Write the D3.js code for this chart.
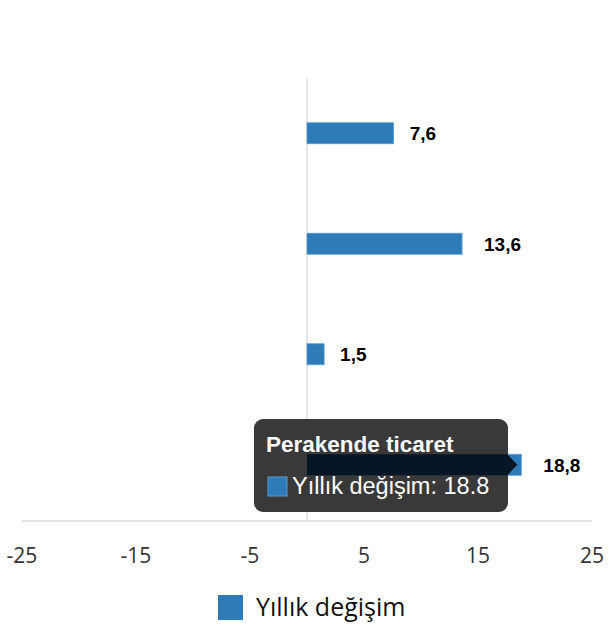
<!DOCTYPE html>
<html>
<head>
<meta charset="utf-8">
<script src="https://cdn.jsdelivr.net/npm/d3@7"></script>
<style>
  body { margin: 0; background: #fff; }
  #chart { width: 610px; height: 640px; }
</style>
</head>
<body>
<div id="chart"></div>
<script>
const categories = ["Sanayi üretimi", "Hizmet üretimi", "İnşaat", "Perakende ticaret"];
const values = [7.6, 13.6, 1.5, 18.8];
const xTicks = [-25, -15, -5, 5, 15, 25];
const seriesName = "Yıllık değişim";
const hovered = 3;

const barColor = "#2e7bb8";

const svg = d3.select("#chart")
  .append("svg")
  .attr("width", 610)
  .attr("height", 640);

const x = d3.scaleLinear().domain([-25, 25]).range([22, 592]);
const y = d3.scaleBand().domain(categories).range([78, 520]).paddingInner(0.81).paddingOuter(0.405);

// bottom axis line
svg.append("line")
  .attr("x1", x(-25)).attr("x2", x(25))
  .attr("y1", 521).attr("y2", 521)
  .attr("stroke", "#e3e3e3").attr("stroke-width", 2);

// zero line
svg.append("line")
  .attr("x1", x(0)).attr("x2", x(0))
  .attr("y1", 78).attr("y2", 520)
  .attr("stroke", "#e2e7ee").attr("stroke-width", 2);

// tick labels
svg.append("g")
  .selectAll("text")
  .data(xTicks)
  .join("text")
  .attr("x", d => x(d))
  .attr("y", 563)
  .attr("text-anchor", "middle")
  .attr("font-family", "'Open Sans', sans-serif")
  .attr("font-size", 21)
  .attr("fill", "#333")
  .text(d => d);

const rows = categories.map((c, i) => ({ cat: c, value: values[i] }));

svg.append("g")
  .selectAll("rect")
  .data(rows)
  .join("rect")
  .attr("x", d => x(Math.min(0, d.value)))
  .attr("y", d => y(d.cat))
  .attr("width", d => Math.abs(x(d.value) - x(0)))
  .attr("height", y.bandwidth())
  .attr("fill", barColor)
  .attr("stroke", "#5a9bd0")
  .attr("stroke-width", 0.8);

svg.append("g")
  .selectAll("text")
  .data(rows)
  .join("text")
  .attr("x", d => x(d.value) + (String(d.value).length > 3 ? 22 : 16))
  .attr("y", d => y(d.cat) + y.bandwidth() / 2 + 7)
  .attr("font-family", "'Liberation Sans', Arial, sans-serif")
  .attr("font-weight", "bold")
  .attr("font-size", 19)
  .attr("fill", "#000")
  .text(d => String(d.value).replace(".", ","));

// tooltip
const hv = rows[hovered];
const tip = svg.append("g");
tip.append("rect")
  .attr("x", 254).attr("y", 419)
  .attr("width", 254).attr("height", 93)
  .attr("rx", 9)
  .attr("fill", "#333")
  .attr("fill-opacity", 0.97);

const by0 = y(hv.cat), by1 = y(hv.cat) + y.bandwidth();
const xe = x(hv.value) - 4;
tip.append("path")
  .attr("d", `M${x(0)},${by0}L${xe - 10},${by0}L${xe},${(by0 + by1) / 2}L${xe - 10},${by1}L${x(0)},${by1}Z`)
  .attr("fill", "#041626");

tip.append("text")
  .attr("x", 266).attr("y", 452)
  .attr("font-family", "'Liberation Sans', Arial, sans-serif")
  .attr("font-weight", "bold")
  .attr("font-size", 22.5)
  .attr("fill", "#fff")
  .text(hv.cat);

tip.append("rect")
  .attr("x", 268).attr("y", 477)
  .attr("width", 19).attr("height", 19)
  .attr("fill", barColor)
  .attr("stroke", "#5a9bd0");

tip.append("text")
  .attr("x", 292).attr("y", 494)
  .attr("font-family", "'Liberation Sans', Arial, sans-serif")
  .attr("font-size", 23.5)
  .attr("fill", "#fff")
  .text(`${seriesName}: ${hv.value}`);

// legend
const legend = svg.append("g");
legend.append("rect")
  .attr("x", 218).attr("y", 595)
  .attr("width", 25).attr("height", 25)
  .attr("fill", barColor);
legend.append("text")
  .attr("x", 256).attr("y", 616)
  .attr("font-family", "'Open Sans', sans-serif")
  .attr("font-size", 25)
  .attr("fill", "#111")
  .text(seriesName);
</script>
</body>
</html>
